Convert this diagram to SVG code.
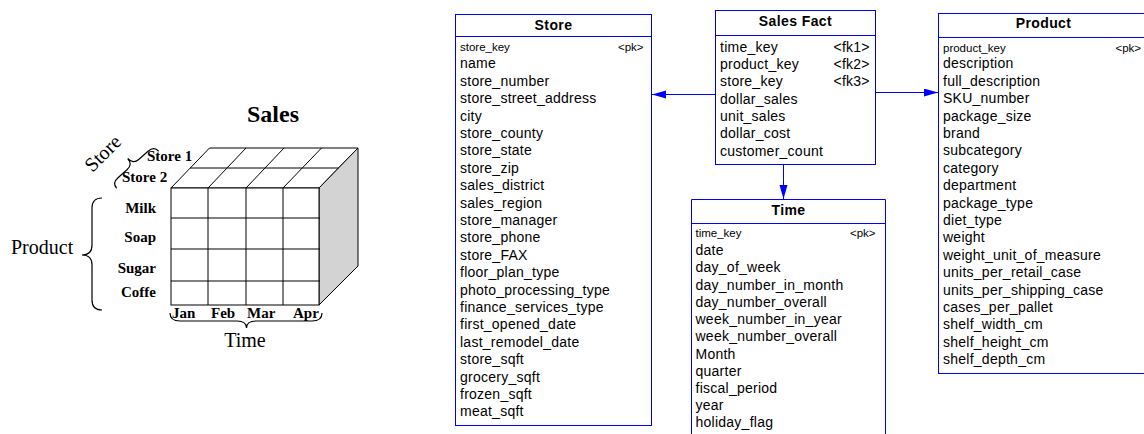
<svg xmlns="http://www.w3.org/2000/svg" width="1144" height="434" viewBox="0 0 1144 434">
<style>
.box{fill:#ffffff;stroke:#0000ff;stroke-width:1}
.sep{stroke:#0000ff;stroke-width:1}
.title{font-family:"Liberation Sans",Arial,sans-serif;font-size:14px;font-weight:bold;letter-spacing:0.4px;fill:#000;text-anchor:middle}
.row{font-family:"Liberation Sans",Arial,sans-serif;font-size:14px;letter-spacing:0.25px;fill:#000}
.key{font-family:"Liberation Sans",Arial,sans-serif;font-size:11.5px;fill:#000}
.pk{font-family:"Liberation Sans",Arial,sans-serif;font-size:11.5px;fill:#000;text-anchor:end}
.conn{stroke:#0000ff;stroke-width:1;fill:none;marker-end:url(#arr)}
.cl{stroke:#000;stroke-width:1;fill:none}
.brace{stroke:#000;stroke-width:1.2;fill:none}
.lb{font-family:"Liberation Serif","Times New Roman",serif;font-size:15px;font-weight:bold;fill:#000}
.lr{font-family:"Liberation Serif","Times New Roman",serif;font-size:20px;fill:#000}
</style>
<defs>
<marker id="arr" markerUnits="userSpaceOnUse" markerWidth="15" markerHeight="9" refX="14" refY="4" orient="auto">
<path d="M0,0 L14,4 L0,8 z" fill="#0000ff"/>
</marker>
</defs>
<rect width="1144" height="434" fill="#ffffff"/>

<g id="cube">
<text x="273" y="121.5" font-family="'Liberation Serif','Times New Roman',serif" font-size="24" font-weight="bold" text-anchor="middle">Sales</text>
<polygon points="171,188 209.5,148 358,148 319,188" fill="#ffffff" stroke="#000" stroke-width="1"/>
<polygon points="319,188 358,148 358,266 319,305" fill="#d3d3d3" stroke="#000" stroke-width="1"/>
<rect x="171" y="188" width="148" height="117" fill="#ffffff" stroke="#000" stroke-width="1"/>
<path class="cl" d="M208,188 V305 M246,188 V305 M283,188 V305 M171,218 H320 M171,249 H320 M171,281 H320"/>
<path class="cl" d="M190,168 H338.5 M208,188 L246,148 M246,188 L284,148 M283,188 L321.5,148"/>
<text class="lb" x="147" y="161">Store 1</text>
<text class="lb" x="122" y="181.5">Store 2</text>
<text class="lb" x="156" y="212.5" text-anchor="end">Milk</text>
<text class="lb" x="156" y="241.5" text-anchor="end">Soap</text>
<text class="lb" x="156" y="273" text-anchor="end">Sugar</text>
<text class="lb" x="156" y="297" text-anchor="end">Coffe</text>
<text class="lb" x="172" y="318">Jan</text>
<text class="lb" x="211" y="318">Feb</text>
<text class="lb" x="247" y="318">Mar</text>
<text class="lb" x="293" y="318">Apr</text>
<text class="lr" x="11" y="254">Product</text>
<text class="lr" x="245" y="346.5" text-anchor="middle">Time</text>
<text class="lr" x="0" y="0" text-anchor="middle" transform="translate(107.5,158) rotate(-45)">Store</text>
<path class="brace" d="M102,198 Q92,198 92,208 L92,245 Q92,255 82,255 Q92,255 92,265 L92,300 Q92,310 102,310"/>
<path class="brace" d="M170,313 Q170,321 180,321 L237,321 Q246.5,321 246.5,328 Q246.5,321 256,321 L312,321 Q322,321 322,313"/>
<path class="brace" transform="translate(133,164.5) rotate(-41.4)" d="M-28,7 Q-28,0 -20,0 L-8,0 Q0,0 0,-8 Q0,0 8,0 L20,0 Q28,0 28,7"/>
</g>

<g id="store">
<rect class="box" x="455.5" y="14.5" width="196" height="411"/>
<line class="sep" x1="455.5" y1="36.5" x2="651.5" y2="36.5"/>
<text class="title" x="553.5" y="30">Store</text>
<text class="key" x="460" y="51">store_key</text>
<text class="pk" x="643.5" y="51">&lt;pk&gt;</text>
<text class="row" x="460" y="68.3">name</text>
<text class="row" x="460" y="85.7">store_number</text>
<text class="row" x="460" y="103.1">store_street_address</text>
<text class="row" x="460" y="120.5">city</text>
<text class="row" x="460" y="137.9">store_county</text>
<text class="row" x="460" y="155.3">store_state</text>
<text class="row" x="460" y="172.7">store_zip</text>
<text class="row" x="460" y="190.1">sales_district</text>
<text class="row" x="460" y="207.5">sales_region</text>
<text class="row" x="460" y="224.9">store_manager</text>
<text class="row" x="460" y="242.3">store_phone</text>
<text class="row" x="460" y="259.7">store_FAX</text>
<text class="row" x="460" y="277.1">floor_plan_type</text>
<text class="row" x="460" y="294.5">photo_processing_type</text>
<text class="row" x="460" y="311.9">finance_services_type</text>
<text class="row" x="460" y="329.3">first_opened_date</text>
<text class="row" x="460" y="346.7">last_remodel_date</text>
<text class="row" x="460" y="364.1">store_sqft</text>
<text class="row" x="460" y="381.5">grocery_sqft</text>
<text class="row" x="460" y="398.9">frozen_sqft</text>
<text class="row" x="460" y="416.3">meat_sqft</text>
</g>

<g id="sales_fact">
<rect class="box" x="715.5" y="10.5" width="160" height="154"/>
<line class="sep" x1="715.5" y1="35.5" x2="875.5" y2="35.5"/>
<text class="title" x="795.5" y="26">Sales Fact</text>
<text class="row" x="720" y="51.5">time_key</text>
<text class="row" x="833.5" y="51.5">&lt;fk1&gt;</text>
<text class="row" x="720" y="68.8">product_key</text>
<text class="row" x="833.5" y="68.8">&lt;fk2&gt;</text>
<text class="row" x="720" y="86.2">store_key</text>
<text class="row" x="833.5" y="86.2">&lt;fk3&gt;</text>
<text class="row" x="720" y="103.5">dollar_sales</text>
<text class="row" x="720" y="120.8">unit_sales</text>
<text class="row" x="720" y="138.2">dollar_cost</text>
<text class="row" x="720" y="155.5">customer_count</text>
</g>

<g id="time">
<path class="box" d="M691.5,440 V199.5 H885.5 V440"/>
<line class="sep" x1="691.5" y1="223.5" x2="885.5" y2="223.5"/>
<text class="title" x="788.5" y="215">Time</text>
<text class="key" x="695.5" y="237">time_key</text>
<text class="pk" x="875.5" y="237">&lt;pk&gt;</text>
<text class="row" x="695.5" y="255">date</text>
<text class="row" x="695.5" y="272.2">day_of_week</text>
<text class="row" x="695.5" y="289.5">day_number_in_month</text>
<text class="row" x="695.5" y="306.7">day_number_overall</text>
<text class="row" x="695.5" y="324">week_number_in_year</text>
<text class="row" x="695.5" y="341.2">week_number_overall</text>
<text class="row" x="695.5" y="358.5">Month</text>
<text class="row" x="695.5" y="375.7">quarter</text>
<text class="row" x="695.5" y="393">fiscal_period</text>
<text class="row" x="695.5" y="410.2">year</text>
<text class="row" x="695.5" y="427.4">holiday_flag</text>
</g>

<g id="product">
<rect class="box" x="938.5" y="13.5" width="220" height="360"/>
<line class="sep" x1="938.5" y1="37.5" x2="1150" y2="37.5"/>
<text class="title" x="1043.5" y="27.5">Product</text>
<text class="key" x="943" y="51.5">product_key</text>
<text class="pk" x="1141" y="51.5">&lt;pk&gt;</text>
<text class="row" x="943" y="68.3">description</text>
<text class="row" x="943" y="85.7">full_description</text>
<text class="row" x="943" y="103.1">SKU_number</text>
<text class="row" x="943" y="120.5">package_size</text>
<text class="row" x="943" y="138">brand</text>
<text class="row" x="943" y="155.4">subcategory</text>
<text class="row" x="943" y="172.8">category</text>
<text class="row" x="943" y="190.2">department</text>
<text class="row" x="943" y="207.6">package_type</text>
<text class="row" x="943" y="225">diet_type</text>
<text class="row" x="943" y="242.4">weight</text>
<text class="row" x="943" y="259.8">weight_unit_of_measure</text>
<text class="row" x="943" y="277.2">units_per_retail_case</text>
<text class="row" x="943" y="294.6">units_per_shipping_case</text>
<text class="row" x="943" y="312">cases_per_pallet</text>
<text class="row" x="943" y="329.4">shelf_width_cm</text>
<text class="row" x="943" y="346.8">shelf_height_cm</text>
<text class="row" x="943" y="364.2">shelf_depth_cm</text>
</g>

<g id="connectors">
<line class="conn" x1="715.5" y1="94.5" x2="652" y2="94.5"/>
<line class="conn" x1="875.5" y1="92.5" x2="938" y2="92.5"/>
<line class="conn" x1="783.5" y1="164.5" x2="783.5" y2="199"/>
</g>
</svg>
